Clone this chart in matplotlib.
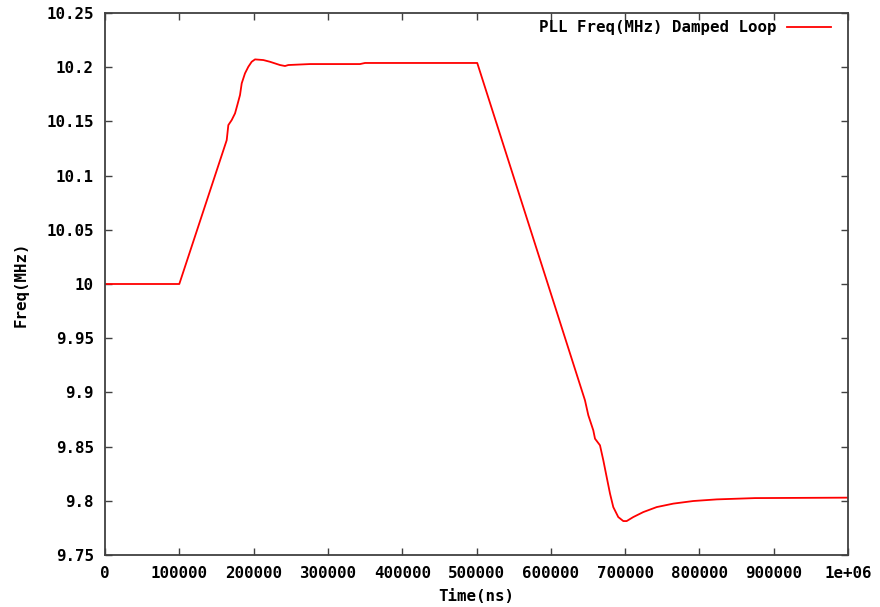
import matplotlib
matplotlib.use("Agg")
import matplotlib.pyplot as plt
from matplotlib.ticker import FixedLocator, FixedFormatter

# Data
time_ns = [0, 100000, 163800, 166000, 170500, 175000, 178100, 181700, 184000,
           188400, 192900, 197400, 201900, 213100, 222100, 235500, 242300,
           246700, 275900, 343200, 350000, 501000, 646000, 650500, 657200,
           659500, 666200, 670700, 675200, 679700, 684100, 690800, 697600,
           702100, 711000, 724500, 742500, 764900, 791800, 823300, 874800,
           1000000]
freq_mhz = [10.0, 10.0, 10.1327, 10.1466, 10.1512, 10.1574, 10.1651, 10.1743,
            10.1851, 10.1943, 10.2004, 10.2050, 10.2072, 10.2066, 10.2050,
            10.2020, 10.2011, 10.2020, 10.2029, 10.2029, 10.2039, 10.2039,
            9.8927, 9.8789, 9.8650, 9.8573, 9.8512, 9.8373, 9.8219, 9.8066,
            9.7942, 9.7850, 9.7813, 9.7813, 9.7850, 9.7896, 9.7942, 9.7974,
            9.7998, 9.8013, 9.8025, 9.8029]

x_ticks = [0, 100000, 200000, 300000, 400000, 500000, 600000, 700000,
           800000, 900000, 1000000]
x_tick_labels = ["0", "100000", "200000", "300000", "400000", "500000",
                 "600000", "700000", "800000", "900000", "1e+06"]
y_ticks = [9.75, 9.8, 9.85, 9.9, 9.95, 10.0, 10.05, 10.1, 10.15, 10.2, 10.25]
y_tick_labels = ["9.75", "9.8", "9.85", "9.9", "9.95", "10", "10.05",
                 "10.1", "10.15", "10.2", "10.25"]

FS = 11.3
font = {"family": "DejaVu Sans Mono", "weight": "bold", "size": FS}

fig = plt.figure(figsize=(8.8, 6.07), dpi=100)
ax = fig.add_axes([105/880, 1-555/607, (848-105)/880, (555-13)/607])

ax.plot(time_ns, freq_mhz, color="#ff0000", linewidth=1.3,
        label="PLL Freq(MHz) Damped Loop")

ax.set_xlim(0, 1000000)
ax.set_ylim(9.75, 10.25)
ax.xaxis.set_major_locator(FixedLocator(x_ticks))
ax.xaxis.set_major_formatter(FixedFormatter(x_tick_labels))
ax.yaxis.set_major_locator(FixedLocator(y_ticks))
ax.yaxis.set_major_formatter(FixedFormatter(y_tick_labels))

ax.tick_params(direction="in", length=5, width=1, color="#404040",
               top=True, right=True, pad=8)
ax.tick_params(axis="y", pad=8)
for lbl in ax.get_xticklabels() + ax.get_yticklabels():
    lbl.set_fontfamily(font["family"])
    lbl.set_fontweight(font["weight"])
    lbl.set_fontsize(font["size"])
for sp in ax.spines.values():
    sp.set_color("#404040")
    sp.set_linewidth(1.3)

ax.set_xlabel("Time(ns)", fontdict=font, labelpad=6)
ax.set_ylabel("Freq(MHz)", fontdict=font, labelpad=13)

leg = ax.legend(loc="upper right", frameon=False, markerfirst=False,
                prop={"family": "DejaVu Sans Mono", "weight": "bold", "size": FS},
                handlelength=2.8, handletextpad=0.7, borderpad=0,
                borderaxespad=0,
                bbox_to_anchor=((831-105)/743, 1 - 7/542))

fig.savefig("out.png", dpi=100, facecolor="white")
